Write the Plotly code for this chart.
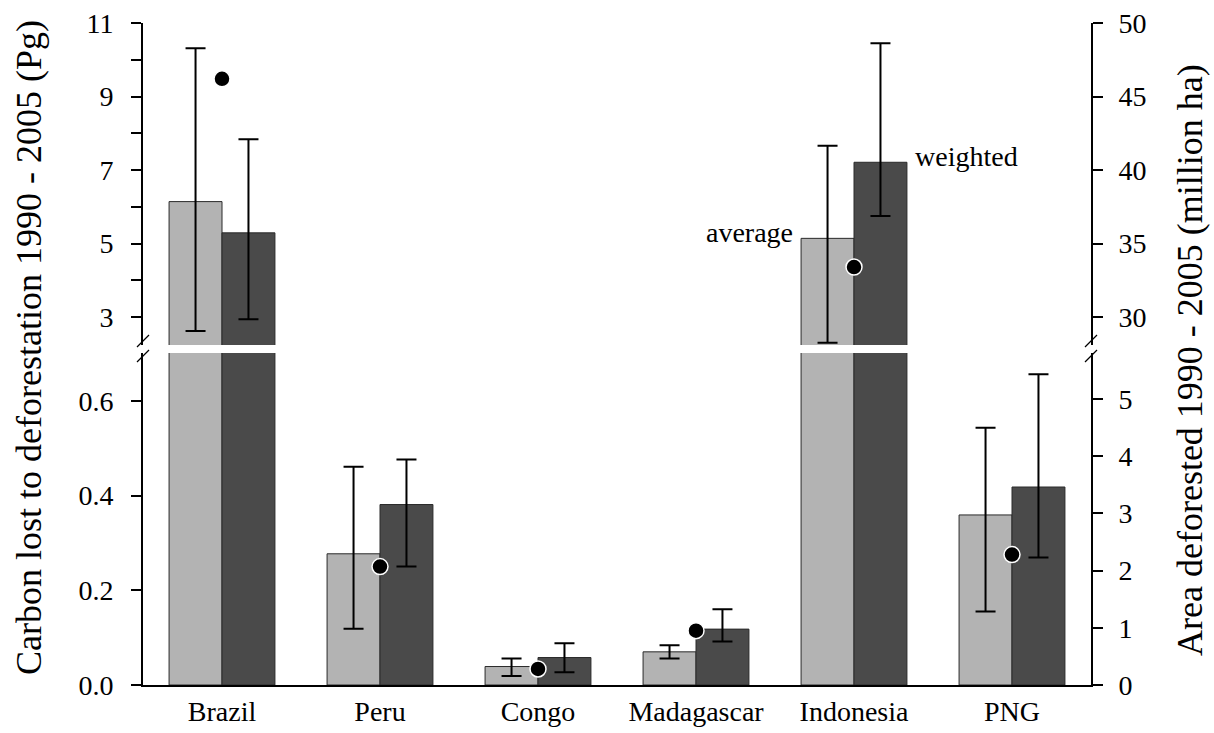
import plotly.graph_objects as go

# ---------------- data ----------------
countries = ["Brazil", "Peru", "Congo", "Madagascar", "Indonesia", "PNG"]

# carbon lost (Pg) - "average" estimate, with lower / upper ends of its error bar
carbon_avg = [6.14, 0.277, 0.039, 0.070, 5.14, 0.359]
carbon_avg_upper = [10.31, 0.461, 0.056, 0.084, 7.66, 0.543]
carbon_avg_lower = [2.62, 0.119, 0.019, 0.056, 2.30, 0.155]

# carbon lost (Pg) - "weighted" estimate
carbon_wtd = [5.29, 0.381, 0.058, 0.118, 7.21, 0.418]
carbon_wtd_upper = [7.84, 0.476, 0.088, 0.160, 10.45, 0.656]
carbon_wtd_lower = [2.94, 0.250, 0.027, 0.092, 5.75, 0.269]

# area deforested 1990-2005 (million ha), right axis
area_deforested = [46.2, 2.07, 0.28, 0.95, 33.4, 2.28]

# tick labels
low_left_ticks = [0.0, 0.2, 0.4, 0.6]
low_left_text = ["0.0", "0.2", "0.4", "0.6"]
up_left_ticks = [3, 4, 5, 6, 7, 8, 9, 10, 11]
up_left_text = ["3", "", "5", "", "7", "", "9", "", "11"]
up_right_ticks = [30, 35, 40, 45, 50]
low_right_ticks = [0, 1, 2, 3, 4, 5]

# ---------------- styling ----------------
FONT = "Liberation Serif, Times New Roman, DejaVu Serif, serif"
LIGHT = "#b3b3b3"
DARK = "#4a4a4a"
W, H = 1214, 733
ML, MR, MT, MB = 143, 123, 23, 48
PW, PH = W - ML - MR, H - MT - MB

def px_x(x):
    return (x - ML) / PW

def px_y(y):
    return (H - MB - y) / PH

LOW_DOM = [0, px_y(353)]
UP_DOM = [px_y(345), 1]


def errs(vals, up, lo):
    return ([u - v for u, v in zip(up, vals)], [v - l for v, l in zip(vals, lo)])


avg_plus, avg_minus = errs(carbon_avg, carbon_avg_upper, carbon_avg_lower)
wtd_plus, wtd_minus = errs(carbon_wtd, carbon_wtd_upper, carbon_wtd_lower)

fig = go.Figure()

for xa, ya, yr in (("x", "y", "y2"), ("x2", "y3", "y4")):
    fig.add_trace(go.Bar(
        x=countries, y=carbon_avg, xaxis=xa, yaxis=ya, offsetgroup="avg",
        marker=dict(color=LIGHT, line=dict(color="#2a2a2a", width=1)),
        error_y=dict(type="data", symmetric=False, array=avg_plus, arrayminus=avg_minus,
                     color="black", thickness=2, width=10),
        showlegend=False, hoverinfo="skip"))
    fig.add_trace(go.Bar(
        x=countries, y=carbon_wtd, xaxis=xa, yaxis=ya, offsetgroup="wtd",
        marker=dict(color=DARK, line=dict(color="#2a2a2a", width=1)),
        error_y=dict(type="data", symmetric=False, array=wtd_plus, arrayminus=wtd_minus,
                     color="black", thickness=2, width=10),
        showlegend=False, hoverinfo="skip"))
    fig.add_trace(go.Scatter(
        x=countries, y=area_deforested, xaxis=xa, yaxis=yr, mode="markers",
        marker=dict(color="black", size=16, line=dict(color="white", width=1.5)),
        cliponaxis=True, showlegend=False, hoverinfo="skip"))

tickfont = dict(family=FONT, size=28, color="black")
axis_common = dict(showline=True, linecolor="black", linewidth=2, ticks="outside",
                   ticklen=10, tickwidth=1.5, tickcolor="black", showgrid=False,
                   zeroline=False, tickfont=tickfont, fixedrange=True, automargin=False)

fig.update_layout(
    template="none",
    width=W, height=H,
    margin=dict(l=ML, r=MR, t=MT, b=MB, autoexpand=False),
    paper_bgcolor="white", plot_bgcolor="white",
    barmode="group", bargap=0.33, bargroupgap=0,
    showlegend=False,
    font=dict(family=FONT, color="black"),
    xaxis=dict(domain=[0, 1], anchor="y", range=[-0.5, 5.5], showline=True,
               linecolor="black", linewidth=2, ticks="", showgrid=False, zeroline=False,
               automargin=False, fixedrange=True,
               tickfont=dict(family=FONT, size=28, color="black"), ticklabelstandoff=0),
    xaxis2=dict(domain=[0, 1], anchor="y3", matches="x", visible=False),
    yaxis=dict(domain=LOW_DOM, anchor="x", range=[0, 0.7009], tickvals=low_left_ticks,
               ticktext=low_left_text, ticklabelstandoff=12, **axis_common),
    yaxis2=dict(overlaying="y", side="right", anchor="x", range=[0, 5.804],
                tickvals=low_right_ticks, ticklabelstandoff=10, **axis_common),
    yaxis3=dict(domain=UP_DOM, anchor="x2", range=[2.238, 11], tickvals=up_left_ticks,
                ticktext=up_left_text, ticklabelstandoff=12, **axis_common),
    yaxis4=dict(overlaying="y3", side="right", anchor="x2", range=[28.095, 50],
                tickvals=up_right_ticks, ticklabelstandoff=10, **axis_common),
)

# axis titles
fig.add_annotation(text="Carbon lost to deforestation 1990 - 2005 (Pg)", textangle=-90,
                   xref="paper", yref="paper", x=px_x(29), y=px_y(348),
                   xanchor="center", yanchor="middle", showarrow=False,
                   font=dict(family=FONT, size=36, color="black"))
fig.add_annotation(text="Area deforested 1990 - 2005 (million ha)", textangle=-90,
                   xref="paper", yref="paper", x=px_x(1190), y=px_y(360),
                   xanchor="center", yanchor="middle", showarrow=False,
                   font=dict(family=FONT, size=36, color="black"))

# series labels
fig.add_annotation(text="average", xref="x2", yref="y3", x=3.627, y=5.29,
                   xanchor="right", yanchor="middle", showarrow=False,
                   font=dict(family=FONT, size=28, color="black"))
fig.add_annotation(text="weighted", xref="x2", yref="y3", x=4.373, y=7.38,
                   xanchor="left", yanchor="middle", showarrow=False,
                   font=dict(family=FONT, size=28, color="black"))

# axis break marks
for ax_px in (ML, W - MR):
    for cy in (341, 356):
        fig.add_shape(type="line", xref="paper", yref="paper",
                      x0=px_x(ax_px - 6), y0=px_y(cy + 6), x1=px_x(ax_px + 6), y1=px_y(cy - 6),
                      line=dict(color="black", width=1.2))

fig.write_html("out.html")
